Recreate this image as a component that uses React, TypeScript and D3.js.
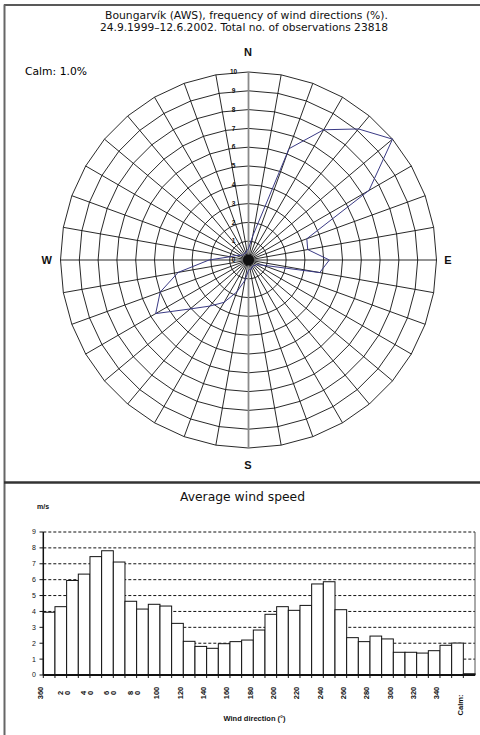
import React from 'react';
import * as d3 from 'd3';

// wind rose: frequency (%) per direction, 10..360
const directions = [10, 20, 30, 40, 50, 60, 70, 80, 90, 100, 110, 120, 130, 140, 150, 160, 170, 180,
  190, 200, 210, 220, 230, 240, 250, 260, 270, 280, 290, 300, 310, 320, 330, 340, 350, 360];
const frequency = [1.3, 6.3, 8.0, 9.1, 10.0, 7.4, 3.3, 3.2, 4.3, 3.85, 0.8, 0.5, 0.45, 0.4, 0.4, 0.5, 0.5, 0.55,
  1.1, 1.8, 2.6, 3.2, 4.05, 5.7, 5.0, 3.8, 2.1, 1.0, 0.7, 0.5, 0.4, 0.4, 0.4, 0.4, 0.5, 0.6];
const ringValues = [0, 1, 2, 3, 4, 5, 6, 7, 8, 9, 10];

// average wind speed (m/s) per direction
const speedCategories = ['360', '10', '20', '30', '40', '50', '60', '70', '80', '90', '100', '110', '120',
  '130', '140', '150', '160', '170', '180', '190', '200', '210', '220', '230', '240', '250', '260', '270',
  '280', '290', '300', '310', '320', '330', '340', '350', 'Calm:'];
const speeds = [3.95, 4.3, 5.95, 6.35, 7.45, 7.82, 7.11, 4.64, 4.15, 4.45, 4.34, 3.25, 2.12, 1.8, 1.68, 1.97,
  2.1, 2.2, 2.83, 3.82, 4.3, 4.07, 4.38, 5.73, 5.87, 4.11, 2.35, 2.1, 2.45, 2.27, 1.43, 1.43, 1.38, 1.53,
  1.87, 2.01, 0.08];
const speedTicks = [0, 1, 2, 3, 4, 5, 6, 7, 8, 9];

const TITLE_FONT = '"DejaVu Sans", Verdana, sans-serif';
const AXIS_FONT = '"Liberation Sans", Arial, sans-serif';

const App = () => {
  // ---- rose geometry
  const cx = 248.5, cy = 260;
  const r = d3.scaleLinear().domain([0, 10]).range([0, 188]);
  const rad = (deg: number) => (deg * Math.PI) / 180;

  const ring = d3.lineRadial<number>()
    .angle(d => rad(d))
    .curve(d3.curveLinearClosed);

  const rosePath = d3.lineRadial<number>()
    .angle((_, i) => rad(directions[i]))
    .radius(d => r(d))
    .curve(d3.curveLinearClosed)(frequency);

  // ---- bar chart geometry
  const x = d3.scaleBand().domain(speedCategories).range([43.3, 475]).padding(0);
  const y = d3.scaleLinear().domain([0, 9]).range([675, 532]);

  return (
    <svg width={480} height={735} style={{ position: 'absolute', left: 0, top: 0, background: '#fff' }}>
      {/* frame */}
      <line x1={4} y1={5} x2={480} y2={5} stroke="#222" strokeWidth={1.5} />
      <line x1={4.5} y1={4.5} x2={4.5} y2={735} stroke="#666" strokeWidth={2} />
      <line x1={4} y1={482.5} x2={480} y2={482.5} stroke="#333" strokeWidth={2.5} />

      {/* rose titles */}
      <g fontFamily={TITLE_FONT} fontSize={10} fill="#111" textAnchor="middle">
        <text x={246.5} y={19} textLength={283} lengthAdjust="spacingAndGlyphs">
          Boungarvík (AWS), frequency of wind directions (%).
        </text>
        <text x={244} y={31} textLength={288} lengthAdjust="spacingAndGlyphs">
          24.9.1999–12.6.2002. Total no. of observations 23818
        </text>
      </g>
      <text x={25} y={75} fontFamily={TITLE_FONT} fontSize={10} textLength={62} lengthAdjust="spacingAndGlyphs">
        Calm: 1.0%
      </text>

      {/* rose grid */}
      <g transform={`translate(${cx},${cy})`}>
        {ringValues.slice(1).map(v => (
          <path key={v} d={ring.radius(() => r(v))(directions) as string} fill="none" stroke="#111" strokeWidth={0.9} />
        ))}
        {directions.map(d => (
          <line key={d} x1={0} y1={0}
            x2={r(10) * Math.sin(rad(d))} y2={-r(10) * Math.cos(rad(d))}
            stroke="#111" strokeWidth={0.9} />
        ))}
        <line x1={0} y1={-r(10)} x2={0} y2={r(10)} stroke="#8a8a8a" strokeWidth={1.8} />
        <circle r={5.5} fill="#111" />
        <path d={rosePath as string} fill="none" stroke="#3a3a85" strokeWidth={1} />
        {ringValues.map(v => (
          <text key={v} x={-15} y={-r(v)} dy="0.35em" textAnchor="middle"
            fontFamily={AXIS_FONT} fontWeight="bold" fontSize={6.5} fill="#111">{v}</text>
        ))}
      </g>

      {/* compass letters */}
      <g fontFamily={AXIS_FONT} fontWeight="bold" fontSize={11} fill="#111" textAnchor="middle">
        <text x={248} y={56}>N</text>
        <text x={46.7} y={264}>W</text>
        <text x={448} y={264}>E</text>
        <text x={248} y={469}>S</text>
      </g>

      {/* bar chart */}
      <text x={242.5} y={501} textAnchor="middle" fontFamily={TITLE_FONT} fontSize={12} fill="#111"
        textLength={125} lengthAdjust="spacingAndGlyphs">Average wind speed</text>
      <text x={37} y={509} fontFamily={AXIS_FONT} fontWeight="bold" fontSize={7} fill="#111">m/s</text>

      {speedTicks.slice(1).map(t => (
        <line key={t} x1={43.3} x2={475} y1={y(t)} y2={y(t)} stroke="#111" strokeWidth={1} strokeDasharray="3,2" />
      ))}
      <line x1={475} x2={475} y1={y(9)} y2={y(0)} stroke="#555" strokeWidth={1} />

      {speedCategories.map((c, i) => (
        <rect key={c} x={x(c)} y={y(speeds[i])} width={x.bandwidth()} height={y(0) - y(speeds[i])}
          fill="#fff" stroke="#111" strokeWidth={1} />
      ))}

      {/* y axis */}
      <line x1={43.3} x2={43.3} y1={y(9)} y2={y(0)} stroke="#111" strokeWidth={1.5} />
      {speedTicks.map(t => (
        <g key={t}>
          <line x1={39.5} x2={43.3} y1={y(t)} y2={y(t)} stroke="#111" strokeWidth={1} />
          <text x={36} y={y(t)} dy="0.35em" textAnchor="end" fontFamily={AXIS_FONT} fontSize={7} fill="#111">{t}</text>
        </g>
      ))}

      {/* x axis */}
      <line x1={43.3} x2={475} y1={y(0)} y2={y(0)} stroke="#111" strokeWidth={2} />
      {speedCategories.map(c => (
        <line key={c} x1={x(c)} x2={x(c)} y1={y(0)} y2={y(0) + 3} stroke="#111" strokeWidth={1} />
      ))}
      <g fontFamily={AXIS_FONT} fontWeight="bold" fontSize={7.5} fill="#111" textAnchor="middle">
        {speedCategories.map((c, i) => {
          if (i % 2 !== 0) return null;
          const lx = (x(c) as number) - 3;
          const ly = c === 'Calm:' ? 705 : 693;
          if (c.length === 2) {
            // two-digit labels wrap into two rotated lines, side by side
            return (
              <g key={c}>
                <text transform={`translate(${lx - 3.6},${ly}) rotate(-90)`} dominantBaseline="central">{c[0]}</text>
                <text transform={`translate(${lx + 3.6},${ly}) rotate(-90)`} dominantBaseline="central">{c[1]}</text>
              </g>
            );
          }
          return (
            <text key={c} transform={`translate(${lx},${ly}) rotate(-90)`} dominantBaseline="central">{c}</text>
          );
        })}
      </g>
      <text x={254.5} y={721} textAnchor="middle" fontFamily={AXIS_FONT} fontWeight="bold" fontSize={7.5} fill="#111">
        Wind direction (°)
      </text>
    </svg>
  );
};

export default App;
